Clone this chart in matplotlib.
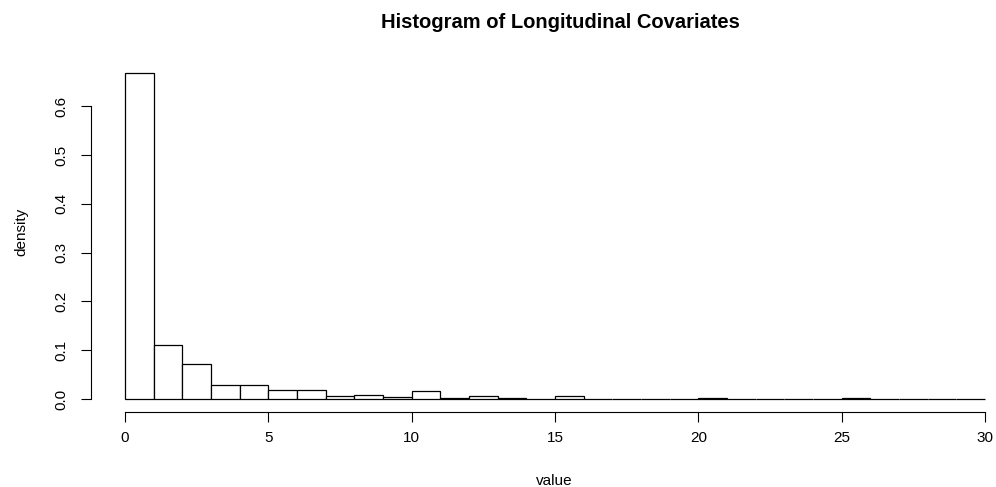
import matplotlib
matplotlib.use("Agg")
import matplotlib.pyplot as plt

plt.rcParams['font.family'] = ['Liberation Sans', 'DejaVu Sans']

# histogram bins (width 1) and their densities
bin_left = list(range(30))
density = [0.668, 0.111, 0.071, 0.029, 0.029, 0.018, 0.018, 0.0055, 0.009, 0.0035,
           0.017, 0.0015, 0.007, 0.001, 0.0005, 0.0055, 0.0, 0.0, 0.0, 0.0005,
           0.003, 0.0, 0.0008, 0.0, 0.0, 0.0015, 0.0, 0.0, 0.0, 0.0008]
x_ticks = [0, 5, 10, 15, 20, 25, 30]
y_ticks = [0.0, 0.1, 0.2, 0.3, 0.4, 0.5, 0.6]

W, H = 996, 487
fig = plt.figure(figsize=(W / 100, H / 100), dpi=100)

# plot region in pixels, R-style 4% padding around data
xlo, xhi = -1.2, 30.1
ylo, yhi = -0.0267, 0.695
px_left, px_right = 90.6, 987.9
px_bottom, px_top = 412, 60
ax = fig.add_axes([px_left / W, 1 - px_bottom / H,
                   (px_right - px_left) / W, (px_bottom - px_top) / H])

ax.bar(bin_left, density, width=1, align='edge', color='white',
       edgecolor='black', linewidth=0.9)

ax.set_xlim(xlo, xhi)
ax.set_ylim(ylo, yhi)
ax.set_xticks(x_ticks)
ax.set_yticks(y_ticks)
ax.set_yticklabels([f"{v:.1f}" for v in y_ticks], rotation=90, va='center')
ax.tick_params(axis='both', direction='out', length=7, width=0.8,
               labelsize=11, colors='black')
ax.tick_params(axis='x', pad=7)
ax.tick_params(axis='y', pad=9)

for side in ['top', 'right']:
    ax.spines[side].set_visible(False)
ax.spines['left'].set_bounds(0, 0.6)
ax.spines['bottom'].set_bounds(0, 30)
ax.spines['left'].set_linewidth(0.8)
ax.spines['bottom'].set_linewidth(0.8)

fig.text(560 / W, 1 - 28 / H, "Histogram of Longitudinal Covariates",
         ha='center', va='baseline', fontsize=14.5, fontweight='bold')
fig.text(554.5 / W, 1 - 485 / H, "value", ha='center', va='baseline', fontsize=11)
fig.text(21 / W, 1 - 232 / H, "density", ha='center', va='center',
         rotation=90, fontsize=11)

fig.savefig("out.png", dpi=100)
